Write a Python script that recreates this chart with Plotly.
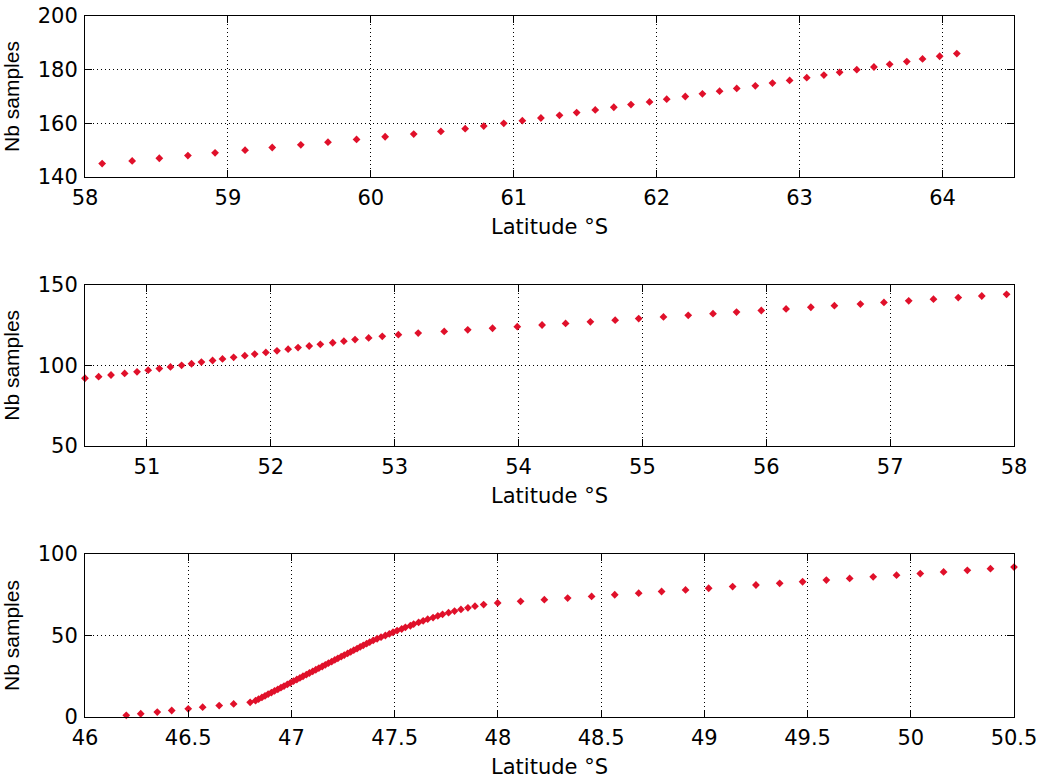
import plotly.graph_objects as go
from plotly.subplots import make_subplots

# ---- Panel 1 (58-64.5 °S)
lat1 = [58.12, 58.33, 58.52, 58.72, 58.91, 59.12, 59.31, 59.51, 59.70, 59.90,
        60.10, 60.30, 60.49, 60.66, 60.79, 60.93, 61.06, 61.19, 61.32, 61.44,
        61.57, 61.70, 61.82, 61.95, 62.07, 62.20, 62.32, 62.44, 62.56, 62.69,
        62.81, 62.93, 63.05, 63.17, 63.28, 63.40, 63.52, 63.63, 63.75, 63.86,
        63.98, 64.10]
nb1 = list(range(145, 187))

# ---- Panel 2 (50.5-58 °S)
lat2 = [50.50, 50.61, 50.71, 50.82, 50.92, 51.01, 51.10, 51.19, 51.28, 51.36,
        51.44, 51.53, 51.61, 51.70, 51.79, 51.87, 51.96, 52.05, 52.14, 52.22,
        52.31, 52.40, 52.50, 52.59, 52.68, 52.79, 52.90, 53.03, 53.19, 53.40,
        53.59, 53.79, 53.99, 54.19, 54.38, 54.58, 54.78, 54.97, 55.17, 55.37,
        55.57, 55.76, 55.96, 56.16, 56.36, 56.55, 56.76, 56.95, 57.15, 57.35,
        57.55, 57.74, 57.94]
nb2 = list(range(92, 145))

# ---- Panel 3 (46-50.5 °S)
lat3 = [46.20, 46.27, 46.35, 46.42, 46.50, 46.57, 46.65, 46.72, 46.80,
        46.826, 46.841, 46.857, 46.872, 46.887, 46.903, 46.918, 46.934, 46.949, 46.964,
        46.980, 46.995, 47.010, 47.026, 47.041, 47.056, 47.072, 47.087, 47.103, 47.118,
        47.133, 47.149, 47.164, 47.179, 47.195, 47.210, 47.225, 47.241, 47.256, 47.272,
        47.287, 47.302, 47.318, 47.333, 47.348, 47.364, 47.379,
        47.396, 47.415, 47.434, 47.455, 47.474, 47.492, 47.512, 47.534, 47.552, 47.576,
        47.592, 47.616, 47.638, 47.660,
        47.686, 47.709, 47.732, 47.761, 47.790, 47.821, 47.855, 47.889, 47.931, 47.999,
        48.110, 48.225, 48.338, 48.454, 48.566, 48.682, 48.793, 48.909, 49.021, 49.137,
        49.250, 49.365, 49.476, 49.591, 49.704, 49.818, 49.931, 50.046, 50.159, 50.274,
        50.386, 50.500]
nb3 = list(range(1, 93))

x_title = "Latitude °S"
y_title = "Nb samples"

FONT_H = "DejaVu Sans, Liberation Sans, sans-serif"
FONT_V = "Liberation Sans, Arial, sans-serif"
RED = "#e0102a"

fig = make_subplots(rows=3, cols=1)
for i, (lx, ny) in enumerate([(lat1, nb1), (lat2, nb2), (lat3, nb3)], start=1):
    fig.add_trace(go.Scatter(x=lx, y=ny, mode="markers",
                             marker=dict(symbol="diamond", size=6, color=RED,
                                         line=dict(width=0)),
                             showlegend=False, hoverinfo="skip", cliponaxis=False),
                  row=i, col=1)

common_axis = dict(showline=True, linecolor="black", linewidth=1, mirror="allticks",
                   ticks="inside", ticklen=7, tickcolor="black", tickwidth=1,
                   showgrid=True, gridcolor="black", griddash="1px,3px", gridwidth=1,
                   zeroline=False, automargin=False,
                   tickfont=dict(family=FONT_H, size=21, color="black"))

xranges = [[58, 64.5], [50.5, 58], [46, 50.5]]
xdticks = [1, 1, 0.5]
yranges = [[140, 200], [50, 150], [0, 100]]
ydticks = [20, 50, 50]
ydomains = [[0.7703, 1.0], [0.3866, 0.6167], [0.0, 0.2325]]

for i in range(3):
    fig.update_xaxes(range=xranges[i], dtick=xdticks[i], tick0=0, ticklabelstandoff=2,
                     title=dict(text=x_title, font=dict(family=FONT_H, size=21, color="black"),
                                standoff=10),
                     row=i + 1, col=1, **common_axis)
    fig.update_yaxes(range=yranges[i], dtick=ydticks[i], tick0=0, domain=ydomains[i],
                     ticklabelstandoff=2,
                     title=dict(text=y_title, font=dict(family=FONT_V, size=21, color="black"),
                                standoff=14),
                     row=i + 1, col=1, **common_axis)

fig.update_layout(width=1040, height=780, autosize=False, template="none",
                  margin=dict(l=85, r=26, t=16, b=63),
                  paper_bgcolor="white", plot_bgcolor="white",
                  font=dict(family=FONT_H, color="black"))

fig.write_html("out.html")
